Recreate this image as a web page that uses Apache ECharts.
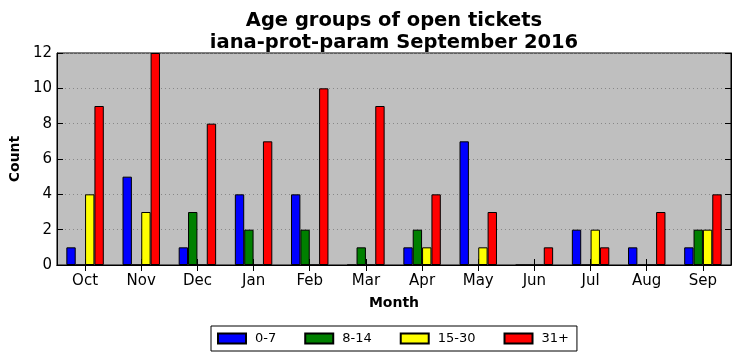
<!DOCTYPE html>
<html>
<head>
<meta charset="utf-8">
<script src="https://cdn.jsdelivr.net/npm/echarts@6/dist/echarts.min.js"></script>
<style>html,body{margin:0;padding:0;background:#fff}#c{width:740px;height:361px}</style>
</head>
<body>
<div id="c"></div>
<script>
const months = ['Oct','Nov','Dec','Jan','Feb','Mar','Apr','May','Jun','Jul','Aug','Sep'];
const age0_7   = [1,5,1,4,4,0,1,7,0,2,1,1];
const age8_14  = [0,0,3,2,2,1,2,0,0,0,0,2];
const age15_30 = [4,3,0,0,0,0,1,1,0,2,0,2];
const age31p   = [9,12,8,7,10,9,4,3,1,1,3,4];
const seriesNames = ['0-7','8-14','15-30','31+'];
const seriesColors = ['#0000ff','#008000','#ffff00','#ff0000'];
const seriesData = [age0_7, age8_14, age15_30, age31p];
const yTicks = [0,2,4,6,8,10,12];

const font = 'DejaVu Sans';
const chart = echarts.init(document.getElementById('c'), null, {renderer:'canvas'});
chart.setOption({
  animation: false,
  backgroundColor: '#ffffff',
  title: {
    text: 'Age groups of open tickets\niana-prot-param September 2016',
    left: 394,
    textAlign: 'center',
    top: 10,
    padding: 0,
    textStyle: {fontFamily: font, fontWeight: 'bold', fontSize: 19.5, lineHeight: 22, color: '#000'}
  },
  legend: {
    data: seriesNames,
    left: 211,
    top: 326,
    orient: 'horizontal',
    itemWidth: 28,
    itemHeight: 10,
    itemGap: 28,
    padding: [6,8,6,6],
    borderColor: '#000',
    borderWidth: 1,
    backgroundColor: '#fff',
    borderRadius: 0,
    textStyle: {fontFamily: font, fontSize: 13, color: '#000', padding: [0,0,0,4]},
    icon: 'rect'
  },
  grid: [{left: 56, right: 9, top: 53, bottom: 96, show: true, backgroundColor: '#bfbfbf', borderColor: '#000', borderWidth: 1}],
  xAxis: [{
    type: 'category',
    data: months,
    boundaryGap: true,
    axisLine: {show: true, lineStyle: {color: '#000', width: 1}},
    axisTick: {show: true, inside: true, alignWithLabel: true, length: 6, lineStyle: {color: '#000'}},
    axisLabel: {fontFamily: font, fontSize: 15, color: '#000', margin: 9},
    name: 'Month',
    nameLocation: 'middle',
    nameGap: 31,
    nameTextStyle: {fontFamily: font, fontWeight: 'bold', fontSize: 14, color: '#000'},
    splitLine: {show: false}
  },{
    type: 'category',
    data: months,
    position: 'top',
    boundaryGap: true,
    axisLine: {show: true, lineStyle: {color: '#000'}},
    axisTick: {show: true, inside: true, alignWithLabel: true, length: 6, lineStyle: {color: '#000'}},
    axisLabel: {show: false},
    splitLine: {show: false}
  }],
  yAxis: [{
    type: 'value',
    min: 0, max: 12, interval: 2,
    axisLine: {show: true, lineStyle: {color: '#000'}},
    axisTick: {show: true, inside: true, length: 6, lineStyle: {color: '#000'}},
    axisLabel: {fontFamily: font, fontSize: 15, color: '#000', margin: 5,
      formatter: v => yTicks.includes(v) ? String(v) : ''},
    splitLine: {show: true, lineStyle: {color: '#888', type: [1,3], width: 1}},
    name: 'Count',
    nameLocation: 'middle',
    nameRotate: 90,
    nameGap: 32,
    nameTextStyle: {fontFamily: font, fontWeight: 'bold', fontSize: 14, color: '#000'}
  },{
    type: 'value',
    position: 'right',
    min: 0, max: 12, interval: 2,
    axisLine: {show: true, lineStyle: {color: '#000'}},
    axisTick: {show: true, inside: true, length: 6, lineStyle: {color: '#000'}},
    axisLabel: {show: false},
    splitLine: {show: false}
  }],
  series: seriesNames.map((n, i) => ({
    name: n,
    type: 'bar',
    data: seriesData[i],
    xAxisIndex: 0,
    yAxisIndex: 0,
    barWidth: '16.67%',
    barGap: '0%',
    itemStyle: {color: seriesColors[i], borderColor: '#000', borderWidth: 1},
    emphasis: {disabled: true}
  }))
});
</script>
</body>
</html>
